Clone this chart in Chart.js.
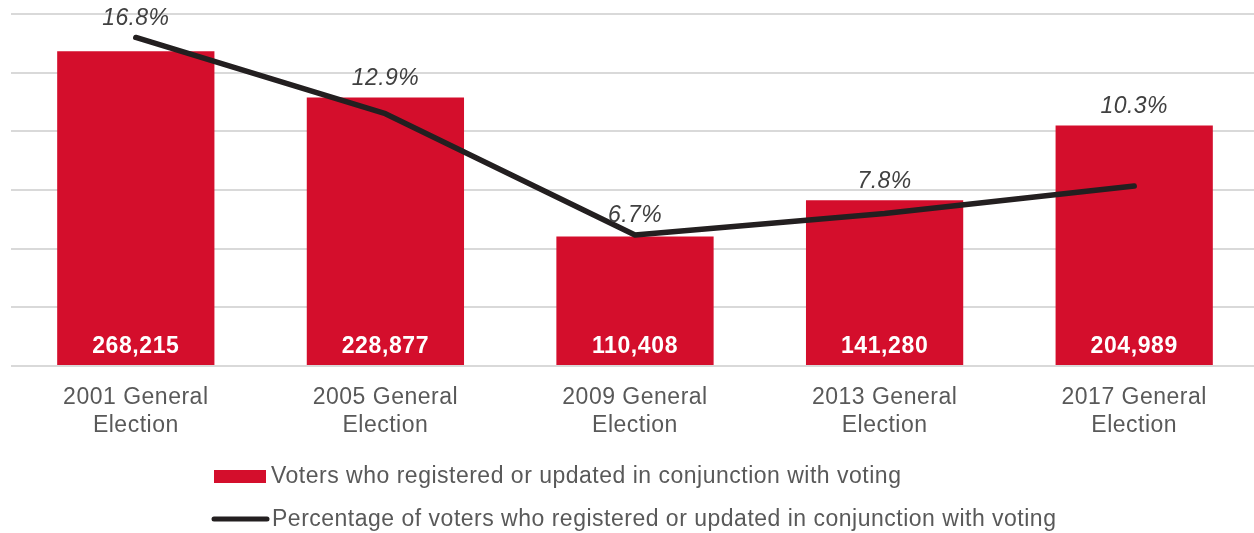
<!DOCTYPE html>
<html>
<head>
<meta charset="utf-8">
<script src="https://cdn.jsdelivr.net/npm/chart.js@4/dist/chart.umd.min.js"></script>
<style>
  html, body { margin: 0; padding: 0; background: #fff; overflow: hidden; }
  #wrap { width: 1264px; height: 533px; }
</style>
</head>
<body>
<div id="wrap"><canvas id="turnoutChart"></canvas></div>
<script>
const categories = [
    ['2001 General', 'Election'],
    ['2005 General', 'Election'],
    ['2009 General', 'Election'],
    ['2013 General', 'Election'],
    ['2017 General', 'Election']
];
const voterCounts = [268215, 228877, 110408, 141280, 204989];
// line as drawn in the picture (last point sits lower than its label says)
const percentValues = [16.8, 12.9, 6.7, 7.8, 9.2];
const percentLabels = ['16.8%', '12.9%', '6.7%', '7.8%', '10.3%'];
const barLabel = 'Voters who registered or updated in conjunction with voting';
const lineLabel = 'Percentage of voters who registered or updated in conjunction with voting';

const FONT = '"Liberation Sans", Arial, Helvetica, sans-serif';
const RED = '#d40e2c';
const DARK = '#231f20';
Chart.defaults.font.family = FONT;

// wider tracking, closer to the original Helvetica Neue
const spacingPlugin = {
    id: 'spacingPlugin',
    beforeDraw(chart) {
        chart.ctx.letterSpacing = '0.5px';
    }
};

// numbers inside the bars, italic % above, and the legend below
const labelsPlugin = {
    id: 'labelsPlugin',
    afterDatasetsDraw(chart) {
        const ctx = chart.ctx;
        const barMeta = chart.getDatasetMeta(1);
        const lineMeta = chart.getDatasetMeta(0);
        const bottom = chart.chartArea.bottom;
        ctx.save();
        ctx.textAlign = 'center';
        ctx.textBaseline = 'middle';
        ctx.fillStyle = '#ffffff';
        ctx.font = 'bold 23px ' + FONT;
        ctx.letterSpacing = '0.6px';
        barMeta.data.forEach((bar, i) => {
            ctx.fillText(voterCounts[i].toLocaleString('en-US'), bar.x, bottom - 19);
        });
        ctx.fillStyle = '#404040';
        ctx.font = 'italic 23px ' + FONT;
        ctx.letterSpacing = '0.4px';
        lineMeta.data.forEach((pt, i) => {
            const top = Math.min(pt.y, barMeta.data[i].y);
            ctx.fillText(percentLabels[i], barMeta.data[i].x, top - 19);
        });

        // legend
        ctx.textAlign = 'left';
        ctx.letterSpacing = '0.5px';
        ctx.font = '23px ' + FONT;
        ctx.fillStyle = RED;
        ctx.fillRect(214, bottom + 104, 52, 13);
        ctx.fillStyle = '#595959';
        ctx.fillText(barLabel, 271, bottom + 111);
        ctx.strokeStyle = DARK;
        ctx.lineWidth = 5;
        ctx.lineCap = 'round';
        ctx.beginPath();
        ctx.moveTo(214, bottom + 153);
        ctx.lineTo(267, bottom + 153);
        ctx.stroke();
        ctx.fillText(lineLabel, 272, bottom + 154);
        ctx.restore();
    }
};

const ctx = document.getElementById('turnoutChart').getContext('2d');
new Chart(ctx, {
    data: {
        labels: categories,
        datasets: [{
            type: 'line',
            label: lineLabel,
            data: percentValues,
            yAxisID: 'yPct',
            borderColor: DARK,
            borderWidth: 5.5,
            borderCapStyle: 'round',
            borderJoinStyle: 'round',
            pointRadius: 0,
            tension: 0,
            order: 0
        }, {
            type: 'bar',
            label: barLabel,
            data: voterCounts,
            yAxisID: 'y',
            backgroundColor: RED,
            barPercentage: 0.63,
            categoryPercentage: 1,
            order: 1
        }]
    },
    options: {
        responsive: true,
        maintainAspectRatio: false,
        animation: false,
        layout: { padding: { left: 11, right: 5, top: 14, bottom: 0 } },
        plugins: {
            legend: { display: false },
            tooltip: { enabled: false }
        },
        scales: {
            x: {
                offset: true,
                grid: { display: false },
                border: { display: false },
                ticks: {
                    color: '#595959',
                    font: { size: 23, lineHeight: 1.2 },
                    padding: 10,
                    maxRotation: 0,
                    autoSkip: false
                },
                afterFit(scale) { scale.height = 167; }
            },
            y: {
                min: 0,
                max: 300000,
                ticks: { display: false, stepSize: 50000 },
                border: { display: false },
                grid: { color: '#d9d9d9', lineWidth: 2, drawTicks: false },
                afterFit(scale) { scale.width = 0; }
            },
            yPct: {
                display: false,
                position: 'right',
                min: 0,
                max: 18
            }
        }
    },
    plugins: [spacingPlugin, labelsPlugin]
});
</script>
</body>
</html>
